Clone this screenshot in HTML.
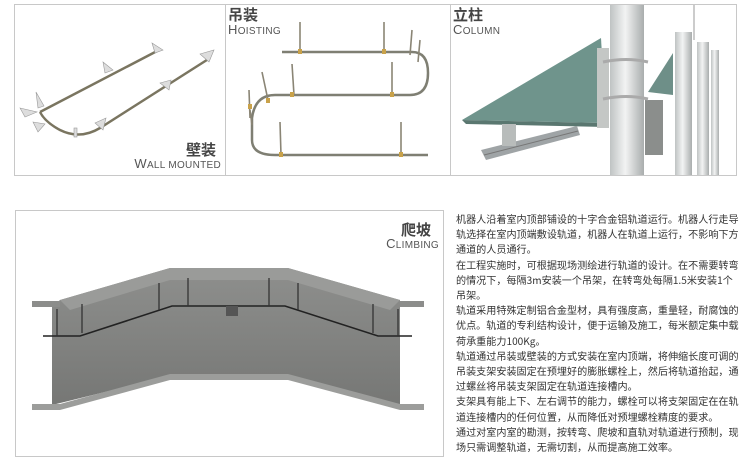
<!DOCTYPE html>
<html><head><meta charset="utf-8"><style>
body{margin:0;width:750px;height:466px;background:#fff;overflow:hidden;position:relative;font-family:"Liberation Sans","Noto Sans CJK SC",sans-serif}
.t{position:absolute;color:#333}
.cn{font-family:"Noto Sans CJK SC",sans-serif;font-weight:700;font-size:15px;color:#444;line-height:16px}
.en{font-size:10px;color:#555;letter-spacing:0.3px;line-height:11px}
.en b{font-size:13px;font-weight:400}
#txt{position:absolute;left:456px;top:211px;font-size:10.1px;line-height:15.2px;color:#333;white-space:nowrap;font-family:"Noto Sans CJK SC",sans-serif}
</style></head><body>
<svg width="750" height="466" style="position:absolute;left:0;top:0">
<defs>
<linearGradient id="pole" x1="0" x2="1"><stop offset="0" stop-color="#bfc3c3"/><stop offset=".45" stop-color="#f2f3f3"/><stop offset="1" stop-color="#a9adad"/></linearGradient>
<linearGradient id="web" x1="0" y1="0" x2="0" y2="1"><stop offset="0" stop-color="#8e8f8d"/><stop offset="1" stop-color="#767775"/></linearGradient>
</defs>
<rect x="14.5" y="4.5" width="722" height="171" fill="none" stroke="#c8c8c8"/>
<line x1="225.5" y1="4" x2="225.5" y2="175" stroke="#c8c8c8"/>
<line x1="450.5" y1="4" x2="450.5" y2="175" stroke="#c8c8c8"/>
<g stroke="#7a7560" stroke-width="2.5" fill="none">
<path d="M40 112 L159 50"/>
<path d="M210 58 L100 128 Q80 140 60 130 Q45 122 40 112"/>
</g>
<g fill="#ddd" stroke="#999" stroke-width=".6">
<polygon points="152,43 163,50 155,53"/><polygon points="103,62 113,70 105,73"/>
<polygon points="36,92 44,106 38,108"/><polygon points="20,108 37,112 25,117"/>
<polygon points="33,122 45,124 38,132"/><polygon points="200,54 214,50 209,62"/>
<polygon points="160,83 171,80 169,90"/><polygon points="95,123 106,118 103,130"/>
<rect x="74" y="128" width="3" height="9"/>
</g>
<g stroke="#7f7f73" stroke-width="2.5" fill="none">
<path d="M282 52 L412 52 Q428 52 428 73 Q428 95 410 95 L275 95 Q255 95 252 118 L252 140 Q252 155 275 155 L428 155"/>
</g>
<g stroke="#8a8575" stroke-width="1.6">
<line x1="300" y1="22" x2="300" y2="52"/><line x1="384" y1="22" x2="384" y2="52"/>
<line x1="412" y1="30" x2="410" y2="55"/><line x1="420" y1="40" x2="418" y2="62"/>
<line x1="292" y1="64" x2="294" y2="95"/><line x1="392" y1="62" x2="392" y2="95"/>
<line x1="262" y1="72" x2="268" y2="100"/><line x1="249" y1="90" x2="250" y2="118"/>
<line x1="250" y1="110" x2="252" y2="125"/><line x1="280" y1="122" x2="281" y2="155"/>
<line x1="401" y1="122" x2="401" y2="155"/>
</g>
<g fill="#c9a24a"><rect x="298" y="49" width="4" height="5"/><rect x="382" y="49" width="4" height="5"/><rect x="290" y="92" width="4" height="5"/><rect x="390" y="92" width="4" height="5"/><rect x="279" y="152" width="4" height="5"/><rect x="399" y="152" width="4" height="5"/><rect x="248" y="104" width="4" height="5"/><rect x="266" y="98" width="4" height="5"/></g>
<rect x="610" y="5" width="34" height="170" fill="url(#pole)"/>
<rect x="675" y="32" width="17" height="143" fill="url(#pole)"/>
<rect x="697" y="42" width="12" height="133" fill="url(#pole)"/>
<rect x="711" y="50" width="8" height="125" fill="url(#pole)"/>
<line x1="694" y1="5" x2="694" y2="40" stroke="#999"/>
<polygon points="648,92 673,53 673,95" fill="#6e8f88"/>
<polygon points="462,120 601,38 606,123" fill="#6f948c"/>
<polygon points="462,120 606,123 606,127 466,124" fill="#5a7770"/>
<polygon points="481,150 577,126 580,135 486,160" fill="#9fa4a6"/>
<line x1="484" y1="155" x2="578" y2="131" stroke="#777"/>
<rect x="502" y="124" width="14" height="22" fill="#b8bcbb"/>
<rect x="597" y="48" width="12" height="80" fill="#c4c7c5"/>
<rect x="645" y="100" width="18" height="55" fill="#8b8e8c"/>
<g stroke="#aaa" stroke-width="3" fill="none"><path d="M603 62 Q627 57 648 62"/><path d="M603 99 Q627 94 648 99"/></g>
<rect x="15.5" y="210.5" width="428" height="246" fill="none" stroke="#c8c8c8"/>
<polygon points="52,307 60,300 170,268 288,268 400,300 400,405 288,376 170,376 52,405" fill="url(#web)"/>
<polygon points="60,300 170,268 288,268 400,300 390,310 288,280 170,280 70,310" fill="#9a9b99"/>
<polygon points="32,301 60,301 60,307 32,307" fill="#8c8d8b"/>
<polygon points="400,301 424,301 424,307 400,307" fill="#8c8d8b"/>
<polygon points="32,404 60,404 170,374 288,374 400,404 424,404 424,410 400,410 288,380 170,380 60,410 32,410" fill="#9c9d9b"/>
<path d="M43 336 L80 336 L172 306 L285 306 L378 336 L412 336" stroke="#222" stroke-width="1.6" fill="none"/>
<g stroke="#333" stroke-width="1.3"><line x1="57" y1="309" x2="57" y2="336"/><line x1="82" y1="304" x2="82" y2="333"/><line x1="159" y1="283" x2="159" y2="310"/><line x1="188" y1="278" x2="188" y2="306"/><line x1="269" y1="278" x2="269" y2="306"/><line x1="298" y1="283" x2="298" y2="310"/><line x1="373" y1="304" x2="373" y2="333"/><line x1="398" y1="309" x2="398" y2="336"/></g>
<rect x="226" y="306" width="12" height="10" fill="#555"/>
</svg>
<div class="t cn" style="left:228px;top:7px">吊装</div>
<div class="t en" style="left:228px;top:24px"><b>H</b>OISTING</div>
<div class="t cn" style="left:453px;top:7px">立柱</div>
<div class="t en" style="left:453px;top:24px"><b>C</b>OLUMN</div>
<div class="t cn" style="left:186px;top:142px">壁装</div>
<div class="t en" style="right:529px;top:158px;text-align:right"><b>W</b>ALL MOUNTED</div>
<div class="t cn" style="left:401px;top:222px">爬坡</div>
<div class="t en" style="right:311px;top:238px;text-align:right"><b>C</b>LIMBING</div>
<div id="txt">机器人沿着室内顶部铺设的十字合金铝轨道运行。机器人行走导<br>轨选择在室内顶端敷设轨道，机器人在轨道上运行，不影响下方<br>通道的人员通行。<br>在工程实施时，可根据现场测绘进行轨道的设计。在不需要转弯<br>的情况下，每隔3m安装一个吊架，在转弯处每隔1.5米安装1个<br>吊架。<br>轨道采用特殊定制铝合金型材，具有强度高，重量轻，耐腐蚀的<br>优点。轨道的专利结构设计，便于运输及施工，每米额定集中载<br>荷承重能力100Kg。<br>轨道通过吊装或壁装的方式安装在室内顶端，将伸缩长度可调的<br>吊装支架安装固定在预埋好的膨胀螺栓上，然后将轨道抬起，通<br>过螺丝将吊装支架固定在轨道连接槽内。<br>支架具有能上下、左右调节的能力，螺栓可以将支架固定在在轨<br>道连接槽内的任何位置，从而降低对预埋螺栓精度的要求。<br>通过对室内室的勘测，按转弯、爬坡和直轨对轨道进行预制，现<br>场只需调整轨道，无需切割，从而提高施工效率。</div>
</body></html>
